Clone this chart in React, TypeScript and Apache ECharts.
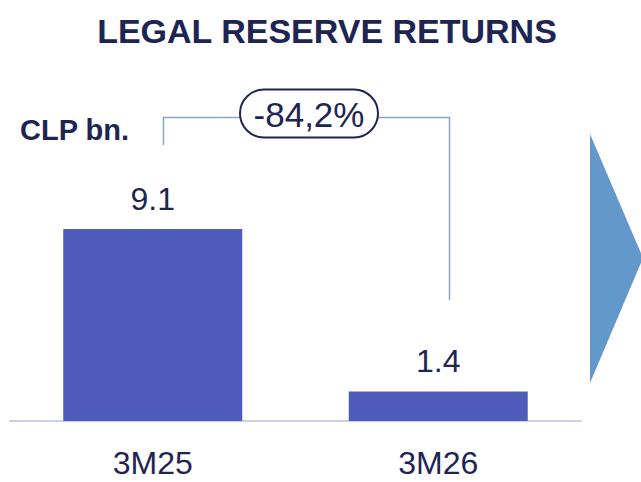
import React, { useEffect, useRef } from "react";
import * as echarts from "echarts";

const title = "LEGAL RESERVE RETURNS";
const unitLabel = "CLP bn.";
const categories = ["3M25", "3M26"];
const values = [9.1, 1.4];
const changeLabel = "-84,2%";

const NAVY = "#1F2552";
const BAR = "#505CBC";
const BRACKET = "#8EA3C4";
const ARROW = "#6399CA";
const FONT = "'Liberation Sans', Arial, sans-serif";

export default function App() {
  const ref = useRef<HTMLDivElement>(null);
  useEffect(() => {
    if (!ref.current) return;
    const chart = echarts.init(ref.current, undefined, { renderer: "svg" });
    chart.setOption({
      animation: false,
      backgroundColor: "#ffffff",
      grid: { left: 10, right: 60, top: 210, bottom: 61, containLabel: false },
      xAxis: {
        type: "category",
        data: categories,
        axisLine: { show: true, lineStyle: { color: "#CBCFEC", width: 2 } },
        axisTick: { show: false },
        axisLabel: {
          color: NAVY,
          fontSize: 32,
          lineHeight: 32,
          fontFamily: FONT,
          margin: 26,
        },
      },
      yAxis: {
        type: "value",
        min: 0,
        max: 10,
        show: false,
        splitLine: { show: false },
      },
      series: [
        {
          type: "bar",
          data: values,
          barWidth: "62.7%",
          itemStyle: { color: BAR },
          label: {
            show: true,
            position: "top",
            distance: 14,
            color: NAVY,
            fontSize: 32,
            fontFamily: FONT,
            formatter: (p: any) => String(p.value),
          },
        },
      ],
      graphic: [
        {
          type: "text",
          style: {
            text: title,
            x: 327,
            y: 31,
            align: "center",
            verticalAlign: "middle",
            fill: NAVY,
            font: `bold 34px ${FONT}`,
          },
        },
        {
          type: "text",
          style: {
            text: unitLabel,
            x: 20,
            y: 130,
            verticalAlign: "middle",
            fill: NAVY,
            font: `bold 29px ${FONT}`,
          },
        },
        {
          type: "polyline",
          shape: { points: [[163.5, 145], [163.5, 117.5], [240, 117.5]] },
          style: { stroke: BRACKET, lineWidth: 1.5, fill: "none" },
        },
        {
          type: "polyline",
          shape: { points: [[377, 117.5], [449.5, 117.5], [449.5, 300]] },
          style: { stroke: BRACKET, lineWidth: 1.5, fill: "none" },
        },
        {
          type: "rect",
          shape: { x: 240, y: 89.5, width: 138, height: 48, r: 24 },
          style: { fill: "#ffffff", stroke: NAVY, lineWidth: 2 },
        },
        {
          type: "text",
          style: {
            text: changeLabel,
            x: 309,
            y: 114,
            align: "center",
            verticalAlign: "middle",
            fill: NAVY,
            font: `35px ${FONT}`,
          },
        },
        {
          type: "polygon",
          shape: { points: [[590, 134], [590, 383], [643, 258]] },
          style: { fill: ARROW },
        },
      ],
    });
    return () => chart.dispose();
  }, []);
  return (
    <div
      ref={ref}
      style={{ position: "absolute", left: 0, top: 0, width: 641, height: 482 }}
    />
  );
}
